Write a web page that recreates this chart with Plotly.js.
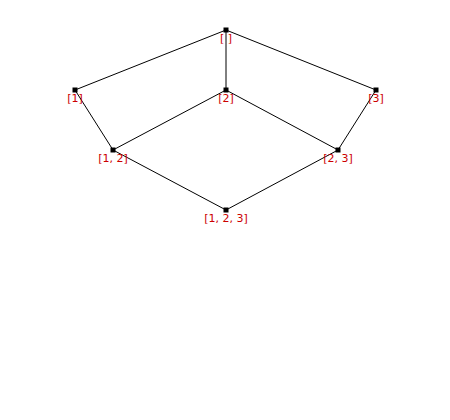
<!DOCTYPE html>
<html><head><meta charset="utf-8">
<script src="https://cdn.plot.ly/plotly-3.0.1.min.js"></script>
<style>body{margin:0}#plot{width:450px;height:420px}</style>
</head><body><div id="plot"></div>
<script>
const labels = ['[ ]', '[1]', '[2]', '[3]', '[1, 2]', '[2, 3]', '[1, 2, 3]'];
const nodeX = [226, 75, 226, 376, 113, 338, 226];
const nodeY = [30, 90, 90, 90, 150, 150, 210];
const edges = [[0,1],[0,2],[0,3],[1,4],[2,4],[2,5],[3,5],[4,6],[5,6]];

const ex = [], ey = [];
edges.forEach(([a, b]) => { ex.push(nodeX[a], nodeX[b], null); ey.push(nodeY[a], nodeY[b], null); });

const traces = [
  { x: ex, y: ey, mode: 'lines', line: { color: 'black', width: 1 }, hoverinfo: 'skip' },
  { x: nodeX, y: nodeY, mode: 'markers+text', text: labels, textposition: 'bottom center',
    textfont: { color: '#cc0000', size: 11, family: 'DejaVu Sans' },
    marker: { symbol: 'square', size: 5, color: 'black' } }
];
const layout = {
  width: 450, height: 420, margin: { l: 0, r: 0, t: 0, b: 0 },
  showlegend: false, plot_bgcolor: 'white', paper_bgcolor: 'white',
  xaxis: { range: [0, 450], visible: false },
  yaxis: { range: [420, 0], visible: false }
};
Plotly.newPlot('plot', traces, layout, { displayModeBar: false, staticPlot: true });
</script></body></html>
